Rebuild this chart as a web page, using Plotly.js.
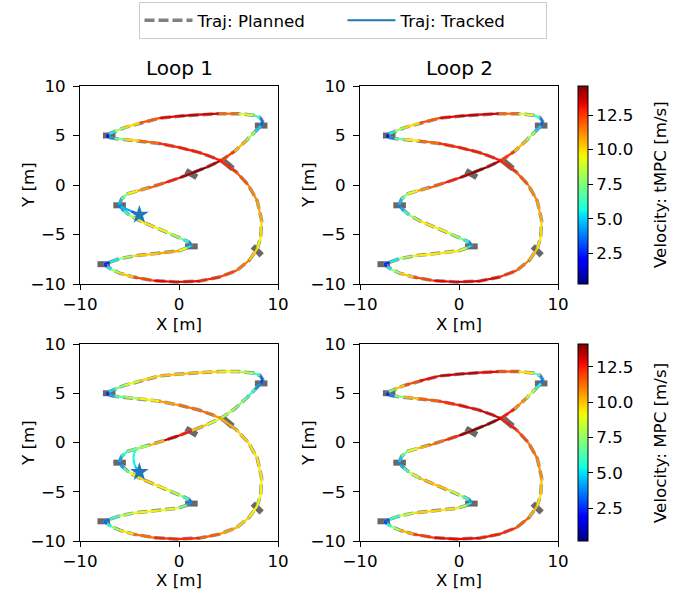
<!DOCTYPE html>
<html>
<head>
<meta charset="utf-8">
<script src="https://cdn.plot.ly/plotly-3.0.1.min.js"></script>
<style>html,body{margin:0;padding:0;background:#fff}#chart{width:685px;height:594px}</style>
</head>
<body>
<div id="chart"></div>
<script>
// ---- Data ----
const pathX = [-6.05,-5.8,-5.2,-4.2,-3.0,-1.5,0.0,1.3,2.8,4.3,5.6,6.8,7.7,8.3,8.45,8.2,7.5,6.0,4.0,2.0,0.0,-2.0,-4.0,-5.5,-6.5,-7.1,-7.3,-7.1,-6.5,-5.5,-4.0,-2.0,0.0,2.0,3.4,4.3,5.8,7.0,7.9,8.35,8.25,7.9,7.1,5.8,4.1,2.1,-0.3,-2.6,-4.6,-6.0,-6.8,-7.3,-7.55,-7.0,-6.0,-4.5,-2.0,0.0,0.8,1.25,1.0,0.3,-1.0,-2.5,-4.0,-5.0,-5.6,-5.95,-6.05];
const pathY = [-2.0,-1.4,-0.9,-0.6,-0.3,0.2,0.7,1.2,1.8,2.5,3.4,4.5,5.4,6.0,6.4,6.8,7.05,7.2,7.2,7.1,6.95,6.75,6.25,5.8,5.4,5.15,4.95,4.8,4.7,4.6,4.45,4.2,3.8,3.3,2.8,2.4,1.3,0.0,-1.6,-3.6,-5.3,-6.45,-7.6,-8.65,-9.3,-9.7,-9.8,-9.65,-9.3,-8.9,-8.55,-8.25,-8.0,-7.8,-7.45,-7.15,-6.9,-6.65,-6.35,-6.1,-5.75,-5.45,-4.85,-4.25,-3.6,-3.05,-2.6,-2.25,-2.0];

const velTmpcLoop1 = [3.5,6,8.5,10.5,11.5,12.5,13.5,14.5,14.5,13.5,11.5,9.5,6.5,3.5,3,5,7.5,10.5,13,14,13.5,13,11,9,7,4,1,2.5,6,9,11,12.5,13,13,13,13,12.5,11.5,11,10.5,9.5,9.5,11,12,12.5,13,13.5,13,11.5,9,7,4,1.5,4,7,9.5,11,10.5,8,3,5,7,9,10,9.5,7,5,4,3.5];
const velTmpcLoop2 = [3.5,6,8.5,10.5,11.5,12.5,13.5,14.5,14.5,13.5,11.5,9.5,6.5,3.5,3,5,7.5,10.5,13,14,13.5,13,11,9,7,4,1,2.5,5.5,8.5,11,12.5,13,13,13,13,12.5,11.5,11,10.5,9.5,10,11,12,13,13.5,13.5,13,11.5,9,7,4,1.5,4,7,9.5,10,9.5,8,3,5,7,9,10,9.5,7,5,4,3.5];
const velMpcLoop1 = [3.5,5,6.5,7.5,8,12.5,14,11,9,8.5,7.5,7,5,3,2.5,4.5,7,9,9.5,10,10,10,9.5,8,6,4,1.5,3,5.5,7.5,8.5,10,11,11.5,11,10.5,10,9.5,9.5,9.5,9,9,9.5,10,11,12,12.5,12,10.5,8.5,6.5,4.5,2,5,7,9,9.5,8.5,5.5,2.5,5,7,9,9.5,10,8,5,3.5,3.5];
const velMpcLoop2 = [3.5,6,8,9.5,11,11.5,13,14.5,14.5,13.5,11.5,10,7,4,3,5,8,11,12.5,13,13.5,13,12.5,11,9,5,1.5,2.5,5,9.5,11,12,12.5,13,13,13,12,11.5,11,10.5,9.5,9.5,11,12,12.5,12.5,13,12.5,11.5,9,7,4,1.5,5,7,9.5,10,9,7,3.5,5,7,9.5,10.5,9.5,7.5,5,4,3.5];

// loop 1 start segments (from the star)
const startTmpcX = [-4.0,-4.8,-5.5,-5.9];
const startTmpcY = [-3.0,-2.65,-2.35,-2.15];
const startTmpcV = [1.5,4,5,4.5];
const startMpcX = [-4.0,-4.45,-4.6,-4.55,-4.3,-3.8];
const startMpcY = [-3.0,-2.4,-1.7,-1.1,-0.7,-0.45];
const startMpcV = [4,5,5.5,5.5,6,7];

const starX = [-4.0];
const starY = [-3.0];

const gateX = [8.3,-7.05,1.25,4.95,-6.0,1.25,-7.6,7.9];
const gateY = [6.0,5.0,1.1,2.05,-2.05,-6.2,-8.0,-6.65];
const gateAngle = [0,0,30,40,0,0,0,45];

const cbTopRange = [0.28,14.6];
const cbBotRange = [0.2,14.1];
const cbTicks = [2.5,5,7.5,10,12.5];
const cbTickText = ['2.5','5.0','7.5','10.0','12.5'];

// ---- helpers ----
function jet(t){
  t = Math.max(0,Math.min(1,t));
  let r,g,b;
  if(t<0.35) r=0; else if(t<0.66) r=(t-0.35)/0.31; else if(t<0.89) r=1; else r=1-0.5*(t-0.89)/0.11;
  if(t<0.125) g=0; else if(t<0.375) g=(t-0.125)/0.25; else if(t<0.64) g=1; else if(t<0.91) g=1-(t-0.64)/0.27; else g=0;
  if(t<0.11) b=0.5+0.5*t/0.11; else if(t<0.34) b=1; else if(t<0.65) b=1-(t-0.34)/0.31; else b=0;
  return 'rgb('+Math.round(r*255)+','+Math.round(g*255)+','+Math.round(b*255)+')';
}
const jetScale = [];
for(let i=0;i<=40;i++){ jetScale.push([i/40, jet(i/40)]); }

const FONT = 'DejaVu Sans, Verdana, sans-serif';
const FS = 16.7;
const traces = [];

function addPanel(ax, trkX, trkY, trkV, range, showStar, cb){
  const xa = 'x'+(ax===1?'':ax), ya = 'y'+(ax===1?'':ax);
  traces.push({x:gateX, y:gateY, xaxis:xa, yaxis:ya, mode:'markers', hoverinfo:'skip', showlegend:false,
    marker:{symbol:'line-ew', size:9, angle:gateAngle, color:'#686868', line:{color:'#686868', width:6}}});
  traces.push({x:pathX, y:pathY, xaxis:xa, yaxis:ya, mode:'lines', hoverinfo:'skip', showlegend:false,
    line:{color:'rgba(128,128,128,0.9)', width:3.5, dash:'10px,4px'}});
  for(let i=0;i<trkX.length-1;i++){
    const v = (trkV[i]+trkV[i+1])/2;
    traces.push({x:[trkX[i],trkX[i+1]], y:[trkY[i],trkY[i+1]], xaxis:xa, yaxis:ya, mode:'lines',
      hoverinfo:'skip', showlegend:false,
      line:{color:jet((v-range[0])/(range[1]-range[0])), width:2.2}});
  }
  if(cb){
    traces.push({x:trkX, y:trkY, xaxis:xa, yaxis:ya, mode:'markers', hoverinfo:'skip', showlegend:false,
      marker:{size:0.1, opacity:0.01, color:trkV, cmin:range[0], cmax:range[1], colorscale:jetScale, showscale:true, colorbar:cb}});
  }
  if(showStar){
    traces.push({x:starX, y:starY, xaxis:xa, yaxis:ya, mode:'markers', hoverinfo:'skip', showlegend:false,
      marker:{symbol:'star', size:14, color:'#1f77b4', line:{width:0}}});
  }
}

const tm1X = startTmpcX.concat(pathX), tm1Y = startTmpcY.concat(pathY), tm1V = startTmpcV.concat(velTmpcLoop1);
const m1X = startMpcX.concat(pathX.slice(4), pathX.slice(1,5));
const m1Y = startMpcY.concat(pathY.slice(4), pathY.slice(1,5));
const m1V = startMpcV.concat(velMpcLoop1.slice(4), velMpcLoop1.slice(1,5));

function cbDef(yTopPx, yBotPx){
  return {x:578/685, xanchor:'left', xpad:0, ypad:0, y:1-(yTopPx+yBotPx)/2/594, yanchor:'middle',
    len:(yBotPx-yTopPx)/594, lenmode:'fraction', thickness:10, thicknessmode:'pixels',
    outlinewidth:1, outlinecolor:'black', ticks:'outside', ticklen:5, tickcolor:'black',
    tickvals:cbTicks, ticktext:cbTickText, tickfont:{family:FONT, size:FS, color:'black'}};
}

addPanel(1, tm1X, tm1Y, tm1V, cbTopRange, true, null);
addPanel(2, pathX, pathY, velTmpcLoop2, cbTopRange, false, cbDef(86,284));
addPanel(3, m1X, m1Y, m1V, cbBotRange, true, null);
addPanel(4, pathX, pathY, velMpcLoop2, cbBotRange, false, cbDef(344,541));

traces.push({x:[null], y:[null], mode:'lines', name:'Traj: Planned', line:{color:'#808080', width:3.5, dash:'10px,4px'}, showlegend:true});
traces.push({x:[null], y:[null], mode:'lines', name:'Traj: Tracked', line:{color:'#1f77b4', width:2}, showlegend:true});

const axBase = {range:[-10,10], showline:true, linecolor:'black', linewidth:1, mirror:true, ticks:'outside',
  ticklen:5, tickwidth:1, tickcolor:'black', showgrid:false, zeroline:false, fixedrange:true,
  tickfont:{family:FONT, size:FS, color:'black'}};
const xTicks = {tickvals:[-10,0,10], ticktext:['\u221210','0','10'], ticklabelstandoff:0};
const yTicks = {tickvals:[-10,-5,0,5,10], ticktext:['\u221210','\u22125','0','5','10'], ticklen:6, ticklabelstandoff:4};
const xdL = [80/685, 278/685], xdR = [360/685, 558/685];
const ydT = [1-284/594, 1-86/594], ydB = [1-541/594, 1-344/594];

function ann(text, xpx, ypx, size, angle){
  return {text:text, x:xpx/685, y:1-ypx/594, xref:'paper', yref:'paper', showarrow:false,
    xanchor:'center', yanchor:'middle', textangle:angle||0, font:{family:FONT, size:size, color:'black'}};
}

const layout = {
  width:685, height:594, paper_bgcolor:'white', plot_bgcolor:'white',
  margin:{l:0, r:0, t:0, b:0, autoexpand:false},
  font:{family:FONT, size:FS, color:'black'},
  xaxis: Object.assign({}, axBase, xTicks, {domain:xdL, anchor:'y'}),
  yaxis: Object.assign({}, axBase, yTicks, {domain:ydT, anchor:'x'}),
  xaxis2: Object.assign({}, axBase, xTicks, {domain:xdR, anchor:'y2'}),
  yaxis2: Object.assign({}, axBase, yTicks, {domain:ydT, anchor:'x2'}),
  xaxis3: Object.assign({}, axBase, xTicks, {domain:xdL, anchor:'y3'}),
  yaxis3: Object.assign({}, axBase, yTicks, {domain:ydB, anchor:'x3'}),
  xaxis4: Object.assign({}, axBase, xTicks, {domain:xdR, anchor:'y4'}),
  yaxis4: Object.assign({}, axBase, yTicks, {domain:ydB, anchor:'x4'}),
  showlegend:true,
  legend:{orientation:'h', x:0.5, xanchor:'center', y:1-2/594, yanchor:'top', bgcolor:'white',
    bordercolor:'#cccccc', borderwidth:1, entrywidth:140, entrywidthmode:'pixels', itemwidth:48,
    font:{family:FONT, size:FS, color:'black'}},
  annotations:[
    ann('Loop 1', 179, 68, 20), ann('Loop 2', 459, 68, 20),
    ann('X [m]', 179, 324, FS), ann('X [m]', 459, 324, FS),
    ann('X [m]', 179, 580, FS), ann('X [m]', 459, 580, FS),
    ann('Y [m]', 28, 185, FS, -90), ann('Y [m]', 308, 185, FS, -90),
    ann('Y [m]', 28, 443, FS, -90), ann('Y [m]', 308, 443, FS, -90),
    ann('Velocity: tMPC [m/s]', 660, 185, FS, -90),
    ann('Velocity: MPC [m/s]', 660, 443, FS, -90)
  ]
};

Plotly.newPlot('chart', traces, layout, {staticPlot:true, displayModeBar:false});
</script>
</body>
</html>
